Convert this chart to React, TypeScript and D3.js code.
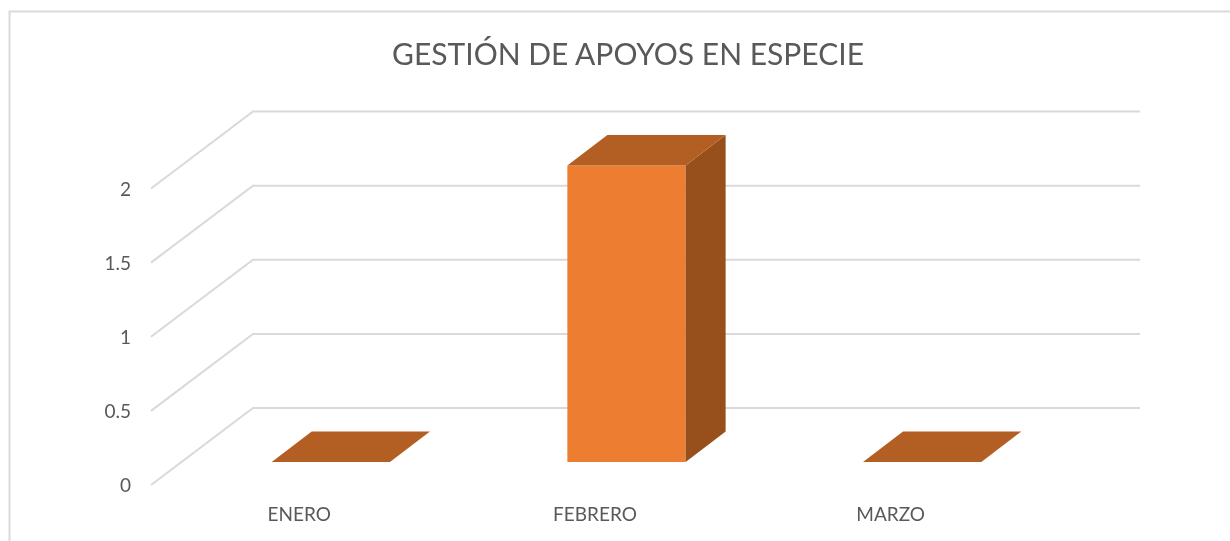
import { useEffect, useRef } from "react"
import * as d3 from "d3"

const categorias = ["ENERO", "FEBRERO", "MARZO"]
const valores = [0, 2, 0]
const ticksY = [0, 0.5, 1, 1.5, 2]
const ticksEtiquetas = ["0", "0.5", "1", "1.5", "2"]
const titulo = "GESTIÓN DE APOYOS EN ESPECIE"

export default function App() {
  const svgRef = useRef<SVGSVGElement>(null)

  useEffect(() => {
    if (!svgRef.current) return

    const svg = d3.select(svgRef.current)
    svg.selectAll("*").remove()

    const fuente = "Lato, 'Open Sans', sans-serif"

    // Marco (sin borde derecho ni inferior, la imagen esta recortada)
    svg
      .append("path")
      .attr("d", "M9.5,541V11.5H1230")
      .attr("fill", "none")
      .attr("stroke", "#D9D9D9")
      .attr("stroke-width", 2)

    // Escalas sobre el plano frontal
    const x = d3.scaleBand().domain(categorias).range([151, 1038]).paddingInner(0.6).paddingOuter(0.3)
    const y = d3.scaleLinear().domain([0, 2]).range([485, 188.5])

    // Profundidad de la pared y de la barra
    const pared = { dx: 102, dy: -77 }
    const inicio = { dx: 32, dy: -23 }
    const fondo = { dx: 40, dy: -30.5 }

    // Rejilla
    const rejilla = svg.append("g").attr("fill", "none").attr("stroke", "#D9D9D9").attr("stroke-width", 2)
    ticksY.forEach((t) => {
      const yf = y(t)
      rejilla
        .append("path")
        .attr("d", `M${x.range()[0]},${yf}L${x.range()[0] + pared.dx},${yf + pared.dy}H${x.range()[1] + pared.dx}`)
    })

    // Barras
    categorias.forEach((c, i) => {
      const x0 = (x(c) || 0) + inicio.dx
      const x1 = x0 + x.bandwidth()
      const base = y(0) + inicio.dy
      const tope = y(valores[i]) + inicio.dy

      if (valores[i] > 0) {
        svg
          .append("rect")
          .attr("x", x0)
          .attr("y", tope)
          .attr("width", x1 - x0)
          .attr("height", base - tope)
          .attr("fill", "#ED7D31")
        svg
          .append("path")
          .attr("d", `M${x1},${tope}l${fondo.dx},${fondo.dy}V${base + fondo.dy}L${x1},${base}Z`)
          .attr("fill", "#97501C")
      }
      svg
        .append("path")
        .attr("d", `M${x0},${tope}l${fondo.dx},${fondo.dy}H${x1 + fondo.dx}L${x1},${tope}Z`)
        .attr("fill", "#B35E22")
    })

    // Eje Y
    ticksY.forEach((t, i) => {
      svg
        .append("text")
        .attr("x", 131)
        .attr("y", y(t) + 7)
        .attr("text-anchor", "end")
        .attr("font-family", fuente)
        .attr("font-size", 19)
        .attr("fill", "#595959")
        .text(ticksEtiquetas[i])
    })

    // Eje X
    categorias.forEach((c) => {
      svg
        .append("text")
        .attr("x", (x(c) || 0) + x.bandwidth() / 2 + 0.5)
        .attr("y", 520.5)
        .attr("text-anchor", "middle")
        .attr("font-family", fuente)
        .attr("font-size", 19)
        .attr("fill", "#595959")
        .text(c)
    })

    // Titulo
    svg
      .append("text")
      .attr("x", 628)
      .attr("y", 65)
      .attr("text-anchor", "middle")
      .attr("font-family", fuente)
      .attr("font-size", 30)
      .attr("fill", "#595959")
      .text(titulo)
  }, [])

  return (
    <svg
      ref={svgRef}
      width={1230}
      height={541}
      viewBox="0 0 1230 541"
      style={{ position: "fixed", left: 0, top: 0, background: "#fff", filter: "blur(0.35px)" }}
    />
  )
}
